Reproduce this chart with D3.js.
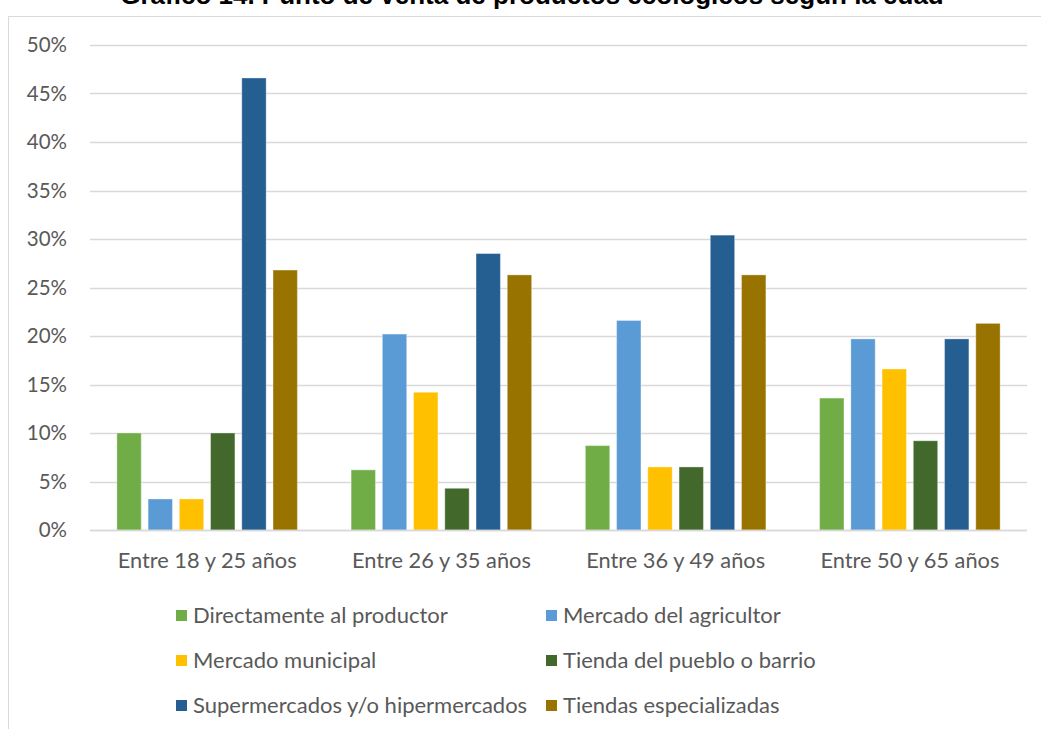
<!DOCTYPE html>
<html><head><meta charset="utf-8">
<script src="https://cdn.jsdelivr.net/npm/d3@7"></script>
<style>body{margin:0;background:#fff}svg{display:block}</style>
</head><body>
<svg id="c" width="1041" height="729"></svg>
<script>
const title = "Gráfico 14. Punto de venta de productos ecológicos según la edad";
const categories = ["Entre 18 y 25 años", "Entre 26 y 35 años", "Entre 36 y 49 años", "Entre 50 y 65 años"];
const seriesNames = ["Directamente al productor", "Mercado del agricultor", "Mercado municipal",
  "Tienda del pueblo o barrio", "Supermercados y/o hipermercados", "Tiendas especializadas"];
const seriesColors = ["#70ad47", "#5b9bd5", "#ffc000", "#43682b", "#255e91", "#997300"];
const directamente = [10.0, 6.2, 8.7, 13.6];
const agricultor   = [3.2, 20.2, 21.6, 19.7];
const municipal    = [3.2, 14.2, 6.5, 16.6];
const tiendaPueblo = [10.0, 4.3, 6.5, 9.2];
const supermercados= [46.6, 28.5, 30.4, 19.7];
const especializadas=[26.8, 26.3, 26.3, 21.3];
const yTicks = [0, 5, 10, 15, 20, 25, 30, 35, 40, 45, 50];

const values = [directamente, agricultor, municipal, tiendaPueblo, supermercados, especializadas];
const svg = d3.select("#c");
const font = "Lato, 'Open Sans', sans-serif";

// frame
svg.append("line").attr("x1", 8.5).attr("x2", 1041).attr("y1", 16.5).attr("y2", 16.5).attr("stroke", "#d9d9d9");
svg.append("line").attr("x1", 8.5).attr("x2", 8.5).attr("y1", 16.5).attr("y2", 729).attr("stroke", "#d9d9d9");

// title (clipped at top)
svg.append("text").attr("x", 532).attr("y", 4).attr("text-anchor", "middle")
  .attr("font-family", "'Liberation Sans', Arial, sans-serif").attr("font-weight", "bold")
  .attr("font-size", 26).attr("fill", "#000").text(title);

const pL = 90, pR = 1027, pT = 45, pB = 530;
const y = d3.scaleLinear().domain([0, 50]).range([pB, pT]);
const x0 = d3.scaleBand().domain(categories).range([pL, pR]).padding(0);
const x1 = d3.scaleBand().domain(seriesNames).range([0, x0.bandwidth()]).paddingInner(0.22).paddingOuter(0.86);

// grid
svg.append("g").selectAll("line").data(yTicks).join("line")
  .attr("x1", pL).attr("x2", pR)
  .attr("y1", d => Math.round(y(d)) + 0.5).attr("y2", d => Math.round(y(d)) + 0.5)
  .attr("stroke", "#d9d9d9").attr("stroke-width", 1.3);

// y axis labels
const yAxis = d3.axisLeft(y).tickValues(yTicks).tickFormat(d => d + "%").tickSize(0).tickPadding(0);
const ya = svg.append("g").attr("transform", `translate(67,0)`).call(yAxis);
ya.select(".domain").remove();
ya.selectAll("text").attr("font-family", font).attr("font-size", 20.5).attr("fill", "#595959");

// bars
const g = svg.append("g");
categories.forEach((c, ci) => {
  seriesNames.forEach((s, si) => {
    const v = values[si][ci];
    g.append("rect")
      .attr("x", x0(c) + x1(s)).attr("width", x1.bandwidth())
      .attr("y", y(v)).attr("height", y(0) - y(v))
      .attr("fill", seriesColors[si])
      .attr("stroke", "#ffffff").attr("stroke-opacity", 0.35).attr("stroke-width", 1);
  });
});

// x axis line
svg.append("line").attr("x1", pL).attr("x2", pR).attr("y1", pB + 0.5).attr("y2", pB + 0.5)
  .attr("stroke", "#d9d9d9").attr("stroke-width", 1.3);

// x axis labels
const xAxis = d3.axisBottom(x0).tickSize(0).tickPadding(0);
const xa = svg.append("g").attr("transform", `translate(0,${pB + 23})`).call(xAxis);
xa.select(".domain").remove();
xa.selectAll("text").attr("font-family", font).attr("font-size", 21.8).attr("fill", "#595959");

// legend
const legX = [176, 546], legY = [615, 660, 705];
seriesNames.forEach((s, i) => {
  const lx = legX[i % 2], ly = legY[Math.floor(i / 2)];
  svg.append("rect").attr("x", lx).attr("y", ly - 5).attr("width", 11).attr("height", 11).attr("fill", seriesColors[i]);
  svg.append("text").attr("x", lx + 17).attr("y", ly).attr("dy", "0.35em")
    .attr("font-family", font).attr("font-size", 22).attr("fill", "#595959").text(s);
});
</script>
</body></html>
